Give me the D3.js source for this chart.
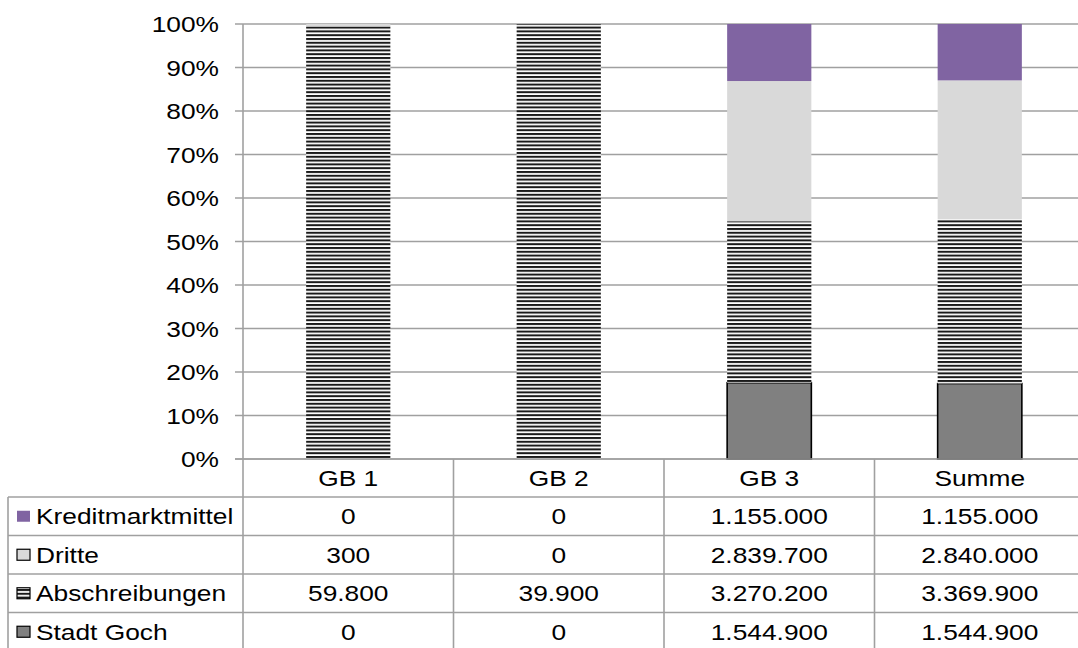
<!DOCTYPE html>
<html>
<head>
<meta charset="utf-8">
<script src="https://cdn.jsdelivr.net/npm/d3@7/dist/d3.min.js"></script>
<style>
  html, body { margin: 0; padding: 0; background: #fff; }
  svg { display: block; font-family: "Liberation Sans", Arial, sans-serif; }
</style>
</head>
<body>
<svg id="chart" width="1078" height="648"></svg>
<script>
// Finanzierung nach Geschäftsbereichen (100 % gestapelt) mit Datentabelle
const categories = ["GB 1", "GB 2", "GB 3", "Summe"];
const seriesNames = ["Kreditmarktmittel", "Dritte", "Abschreibungen", "Stadt Goch"]; // table order (top to bottom)
const kreditmarktmittel = [0, 0, 1155000, 1155000];
const dritte = [300, 0, 2839700, 2840000];
const abschreibungen = [59800, 39900, 3270200, 3369900];
const stadtGoch = [0, 0, 1544900, 1544900];
const yTicks = [0, 0.1, 0.2, 0.3, 0.4, 0.5, 0.6, 0.7, 0.8, 0.9, 1.0];

const valuesByName = {
  "Kreditmarktmittel": kreditmarktmittel,
  "Dritte": dritte,
  "Abschreibungen": abschreibungen,
  "Stadt Goch": stadtGoch
};
const stackOrder = ["Stadt Goch", "Abschreibungen", "Dritte", "Kreditmarktmittel"]; // bottom to top

const rows = categories.map((c, i) => {
  const r = { cat: c };
  seriesNames.forEach(n => r[n] = valuesByName[n][i]);
  return r;
});

const svg = d3.select("#chart");
const plotLeft = 243, plotRight = 1085, plotTop = 24, plotBottom = 459;
const gridColor = "#a0a0a0";
const fontSize = 22.5;
const textScaleX = 1.17; // wide text, as in the original export

// text helper: places a horizontally widened label at (x, y)
function label(parent, tx, ty, str, anchor) {
  return parent.append("text")
    .attr("transform", `translate(${tx},${ty}) scale(${textScaleX},1)`)
    .attr("dy", "0.36em")
    .attr("text-anchor", anchor || "start")
    .attr("font-size", fontSize)
    .attr("fill", "#000")
    .text(str);
}

const defs = svg.append("defs");
const pat = defs.append("pattern")
  .attr("id", "hlines")
  .attr("patternUnits", "userSpaceOnUse")
  .attr("width", 8).attr("height", 3.8);
pat.append("rect").attr("width", 8).attr("height", 3.8).attr("fill", "#fff");
pat.append("rect").attr("y", 0).attr("width", 8).attr("height", 2).attr("fill", "#1a1a1a");

const fills = {
  "Kreditmarktmittel": "#8064a2",
  "Dritte": "#d9d9d9",
  "Abschreibungen": "url(#hlines)",
  "Stadt Goch": "#808080"
};
const strokes = {
  "Kreditmarktmittel": "none",
  "Dritte": "none",
  "Abschreibungen": "none",
  "Stadt Goch": "#000"
};

const x = d3.scaleBand().domain(categories).range([plotLeft, plotRight]).paddingInner(0.6).paddingOuter(0.3);
const xCol = d3.scaleBand().domain(categories).range([plotLeft, plotRight]).padding(0);
const y = d3.scaleLinear().domain([0, 1]).range([plotBottom, plotTop]);

// grid lines with short outer ticks
svg.append("g").selectAll("line").data(yTicks).join("line")
  .attr("x1", plotLeft - 8).attr("x2", 1078)
  .attr("y1", d => y(d)).attr("y2", d => y(d))
  .attr("stroke", gridColor).attr("stroke-width", 1.6);

// y-axis labels
const yLab = svg.append("g");
yTicks.forEach(t => label(yLab, 219, y(t), d3.format(".0%")(t), "end"));

// stacked bars
const stack = d3.stack().keys(stackOrder).offset(d3.stackOffsetExpand);
const layers = stack(rows);
svg.append("g").selectAll("g").data(layers).join("g")
  .attr("fill", d => fills[d.key])
  .attr("stroke", d => strokes[d.key])
  .attr("stroke-width", 1.6)
  .selectAll("rect").data(d => d.filter(s => s[1] - s[0] > 0)).join("rect")
  .attr("x", d => x(d.data.cat))
  .attr("width", x.bandwidth())
  .attr("y", d => y(d[1]))
  .attr("height", d => y(d[0]) - y(d[1]));

// data table
const headerBottom = 497;
const rowH = 38.5;
const tableBottom = headerBottom + rowH * seriesNames.length;
const legendLeft = 8;
const tg = svg.append("g");

// axis line / header top
tg.append("line").attr("x1", plotLeft - 8).attr("x2", 1078).attr("y1", plotBottom).attr("y2", plotBottom)
  .attr("stroke", gridColor).attr("stroke-width", 1.6);
// horizontal row lines
d3.range(seriesNames.length + 1).forEach(i => {
  const yy = headerBottom + i * rowH;
  tg.append("line").attr("x1", legendLeft).attr("x2", 1078).attr("y1", yy).attr("y2", yy)
    .attr("stroke", gridColor).attr("stroke-width", 1.6);
});
// y axis line
tg.append("line").attr("x1", plotLeft).attr("x2", plotLeft).attr("y1", plotTop).attr("y2", tableBottom)
  .attr("stroke", gridColor).attr("stroke-width", 1.6);
// column separators
categories.slice(1).forEach(c => {
  tg.append("line").attr("x1", xCol(c)).attr("x2", xCol(c)).attr("y1", plotBottom).attr("y2", tableBottom)
    .attr("stroke", gridColor).attr("stroke-width", 1.6);
});
// legend column left edge
tg.append("line").attr("x1", legendLeft).attr("x2", legendLeft).attr("y1", headerBottom).attr("y2", tableBottom)
  .attr("stroke", gridColor).attr("stroke-width", 1.6);

// header labels
categories.forEach(c => label(tg, xCol(c) + xCol.bandwidth() / 2, (plotBottom + headerBottom) / 2, c, "middle"));

const fmt = d3.formatLocale({ decimal: ",", thousands: ".", grouping: [3], currency: ["", " €"] }).format(",.0f");

seriesNames.forEach((name, i) => {
  const cy = headerBottom + i * rowH + rowH / 2;
  // legend key
  tg.append("rect")
    .attr("x", 17).attr("y", cy - 5.5).attr("width", 13).attr("height", 11)
    .attr("fill", fills[name])
    .attr("stroke", name === "Kreditmarktmittel" ? "none" : "#000")
    .attr("stroke-width", 1.2);
  label(tg, 36, cy, name, "start");
  // values
  valuesByName[name].forEach((v, j) => {
    label(tg, xCol(categories[j]) + xCol.bandwidth() / 2, cy, fmt(v), "middle");
  });
});
</script>
</body>
</html>
